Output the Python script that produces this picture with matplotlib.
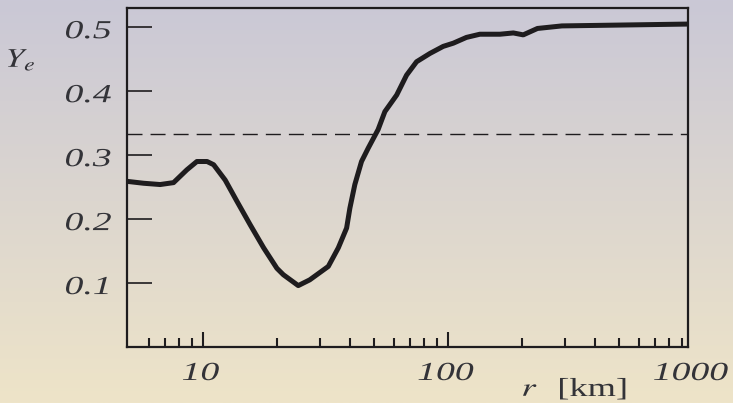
import numpy as np
import matplotlib
matplotlib.use('Agg')
import matplotlib.pyplot as plt
from matplotlib.ticker import FixedLocator, NullFormatter
from matplotlib.textpath import TextPath
from matplotlib.patches import PathPatch
from matplotlib.font_manager import FontProperties
from matplotlib.transforms import Affine2D, IdentityTransform

# radius in km, electron fraction
r_km = [4.9, 5.73, 6.69, 7.59, 8.6, 9.45, 10.4, 11.06, 12.33, 13.76, 15.6, 17.7,
        20.05, 21.3, 24.5, 27.3, 32.5, 35.7, 38.6, 39.8, 41.7, 44.4, 47.3, 51.9,
        55.3, 61.8, 67.8, 74.5, 84.5, 95.7, 105.2, 119, 135, 163, 185, 203, 232,
        292, 1000]
Ye = [0.259, 0.256, 0.254, 0.257, 0.277, 0.290, 0.290, 0.285, 0.261, 0.228, 0.191,
      0.155, 0.123, 0.113, 0.096, 0.105, 0.126, 0.155, 0.186, 0.217, 0.254, 0.290,
      0.311, 0.340, 0.368, 0.394, 0.425, 0.446, 0.459, 0.470, 0.475, 0.484, 0.489,
      0.489, 0.491, 0.488, 0.498, 0.502, 0.505]

Ye_ref = 1.0 / 3.0

yticks = [0.1, 0.2, 0.3, 0.4, 0.5]
ytick_labels = ['0.1', '0.2', '0.3', '0.4', '0.5']
xticks = [10, 100, 1000]
xtick_labels = ['10', '100', '1000']
xminor = [6, 7, 8, 9, 20, 30, 40, 50, 60, 70, 80, 90,
          200, 300, 400, 500, 600, 700, 800, 900]

plt.rcParams['mathtext.fontset'] = 'stix'
ink = '#1e1c1e'
txt = '#333338'
W, H = 733, 403

fig = plt.figure(figsize=(W / 100, H / 100), dpi=100)

# background gradient, lavender on top to beige at the bottom
bg = fig.add_axes([0, 0, 1, 1], zorder=-10)
top = np.array([202, 200, 214]) / 255.0
bot = np.array([238, 228, 200]) / 255.0
t = np.linspace(0, 1, 256)[:, None, None]
grad = top[None, None, :] * (1 - t) + bot[None, None, :] * t
bg.imshow(grad, aspect='auto', extent=[0, 1, 0, 1])
bg.axis('off')

ax = fig.add_axes([127 / W, 1 - 347 / H, 561 / W, 339 / H])
ax.set_facecolor('none')

ax.plot(r_km, Ye, color=ink, lw=3.6, solid_joinstyle='round', solid_capstyle='butt')
dash, = ax.plot([4.9, 1000], [Ye_ref, Ye_ref], color=ink, lw=1.0)
dash.set_dashes([10.8, 5.8])

ax.set_xscale('log')
ax.set_xlim(4.9, 955)
ax.set_ylim(0, 0.53)

for s in ax.spines.values():
    s.set_linewidth(1.6)
    s.set_color(ink)

ax.yaxis.set_major_locator(FixedLocator(yticks))
ax.xaxis.set_major_locator(FixedLocator(xticks))
ax.xaxis.set_minor_locator(FixedLocator(xminor))
ax.xaxis.set_minor_formatter(NullFormatter())

ax.tick_params(axis='y', which='major', direction='in', length=18, width=1.2,
               color=ink, left=True, right=False, labelleft=False)
ax.tick_params(axis='x', which='major', direction='in', length=11, width=1.5,
               color=ink, top=False, bottom=True, labelbottom=False)
ax.tick_params(axis='x', which='minor', direction='in', length=6.5, width=1.5,
               color=ink, top=False, bottom=True)

# the original lettering is a wide italic serif, so draw it as stretched paths
ital = FontProperties(family='Liberation Serif', style='italic')
roman = FontProperties(family='Liberation Serif')


def wide_text(x, y, s, prop, size=26, sx=1.45, ha='left'):
    # x in pixels from the left, y = baseline in pixels from the top
    tp = TextPath((0, 0), s, size=size, prop=prop)
    ext = tp.get_extents()
    if ha == 'center':
        x0 = (ext.x0 + ext.x1) / 2 * sx
    elif ha == 'right':
        x0 = ext.x1 * sx
    else:
        x0 = ext.x0 * sx
    tr = Affine2D().scale(sx, 1).translate(x - x0, H - y) + IdentityTransform()
    fig.add_artist(PathPatch(tp, transform=tr, facecolor=txt, edgecolor='none', lw=0))


for v, lab in zip(yticks, ytick_labels):
    py = H - ax.transData.transform((10, v))[1]
    wide_text(66, py + 11, lab, ital, ha='left')

for v, lab in zip(xticks, xtick_labels):
    px = ax.transData.transform((v, 0.1))[0]
    wide_text(px - 2, 380, lab, ital, ha='center')

wide_text(8, 67, r'$Y_e$', ital, size=27, sx=1.25)
wide_text(523, 396, r'$r$', ital, size=26, sx=1.4)
wide_text(560, 396, '[km]', roman, size=26, sx=1.4)

fig.savefig('out.png', dpi=100)
